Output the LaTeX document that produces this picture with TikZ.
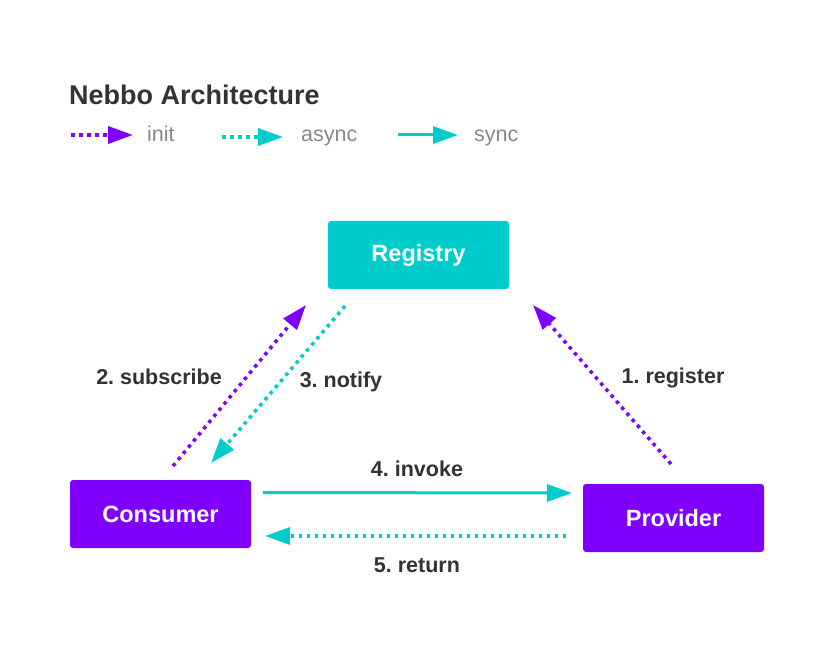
\documentclass[tikz,border=0pt]{standalone}
\usepackage{fontspec}
\setmainfont{Liberation Sans}
\usetikzlibrary{arrows.meta}
\definecolor{purp}{HTML}{8000FF}
\definecolor{cyn}{HTML}{00CCCC}
\definecolor{dark}{HTML}{333333}
\definecolor{gry}{HTML}{888888}
\frenchspacing
\tikzset{
  box/.style={rectangle, rounded corners=3pt, minimum width=181pt, minimum height=68pt, inner sep=0pt, text=white, font=\fontsize{23.5}{28}\selectfont\bfseries},
  lbl/.style={text=dark, font=\fontsize{21.5}{25}\selectfont\bfseries, inner sep=0pt},
  leg/.style={text=gry, font=\fontsize{21.5}{25}\selectfont, inner sep=0pt, anchor=base west},
  tip/.style={-{Triangle[length=25pt,width=17pt]}},
  dots/.style={line width=3.5pt, dash pattern=on 3.5pt off 4.5pt},
  solidl/.style={line width=3pt},
}
\begin{document}
\begin{tikzpicture}[x=1pt,y=-1pt]
\useasboundingbox[fill=white] (0,0) rectangle (835,660);
% title
\node[anchor=west, text=dark, inner sep=0pt, font=\fontsize{27}{32}\selectfont\bfseries] (title) at (69,95) {Nebbo Architecture};
% legend
\coordinate (l1a) at (71,135); \coordinate (l1b) at (133,135);
\coordinate (l2a) at (222,137); \coordinate (l2b) at (283,137);
\coordinate (l3a) at (398,135); \coordinate (l3b) at (458,135);
\draw[purp, dots, tip] (l1a) -- (l1b);
\draw[cyn, dots, tip] (l2a) -- (l2b);
\draw[cyn, solidl, tip] (l3a) -- (l3b);
\node[leg] (tinit) at (147,142) {init};
\node[leg] (tasync) at (301,142) {async};
\node[leg] (tsync) at (474,142) {sync};
% nodes
\node[box, fill=cyn] (reg) at (418.5,255) {Registry};
\node[box, fill=purp] (con) at (160.5,514) {Consumer};
\node[box, fill=purp] (pro) at (673.5,518) {Provider};
% connector end points
\coordinate (rA) at (671,464); \coordinate (rB) at (533,305);
\coordinate (sA) at (173,466); \coordinate (sB) at (306,305);
\coordinate (nA) at (345,306); \coordinate (nB) at (211,463);
\coordinate (iA) at (263,492.5); \coordinate (iB) at (572,493);
\coordinate (tA) at (566,536); \coordinate (tB) at (265,536);
\draw[purp, dots, tip] (rA) -- (rB);
\draw[purp, dots, tip] (sA) -- (sB);
\draw[cyn, dots, tip] (nA) -- (nB);
\draw[cyn, solidl, tip] (iA) -- (iB);
\draw[cyn, dots, tip] (tA) -- (tB);
% labels
\node[lbl] (l1) at (673,378) {1. register};
\node[lbl] (l2) at (159,377) {2. subscribe};
\node[lbl] (l3) at (341,382) {3. notify};
\node[lbl] (l4) at (417,469) {4. invoke};
\node[lbl] (l5) at (417,565) {5. return};
\end{tikzpicture}
\end{document}
